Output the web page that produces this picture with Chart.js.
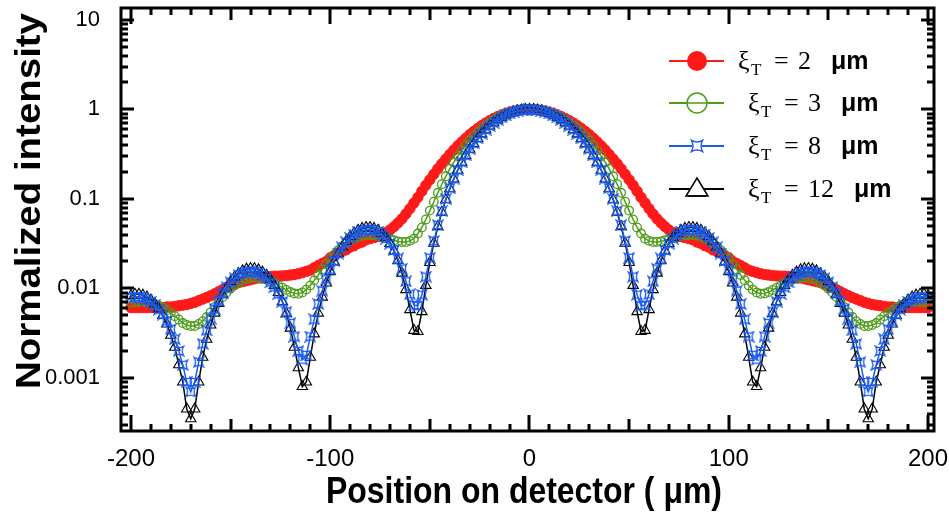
<!DOCTYPE html>
<html>
<head>
<meta charset="utf-8">
<script src="https://cdn.jsdelivr.net/npm/chart.js@4.4.1/dist/chart.umd.min.js"></script>
<style>
  html, body { margin: 0; padding: 0; background: #fff; }
  #wrap { width: 949px; height: 516px; }
</style>
</head>
<body>
<div id="wrap"><canvas id="chart" width="949" height="516"></canvas></div>
<script>
/* ── DATA ── */
const positions = [
  -200, -198, -196, -194, -192, -190, -188, -186, -184, -182,
  -180, -178, -176, -174, -172, -170, -168, -166, -164, -162,
  -160, -158, -156, -154, -152, -150, -148, -146, -144, -142,
  -140, -138, -136, -134, -132, -130, -128, -126, -124, -122,
  -120, -118, -116, -114, -112, -110, -108, -106, -104, -102,
  -100, -98, -96, -94, -92, -90, -88, -86, -84, -82,
  -80, -78, -76, -74, -72, -70, -68, -66, -64, -62,
  -60, -58, -56, -54, -52, -50, -48, -46, -44, -42,
  -40, -38, -36, -34, -32, -30, -28, -26, -24, -22,
  -20, -18, -16, -14, -12, -10, -8, -6, -4, -2,
  0,
  2, 4, 6, 8, 10, 12, 14, 16, 18, 20,
  22, 24, 26, 28, 30, 32, 34, 36, 38, 40,
  42, 44, 46, 48, 50, 52, 54, 56, 58, 60,
  62, 64, 66, 68, 70, 72, 74, 76, 78, 80,
  82, 84, 86, 88, 90, 92, 94, 96, 98, 100,
  102, 104, 106, 108, 110, 112, 114, 116, 118, 120,
  122, 124, 126, 128, 130, 132, 134, 136, 138, 140,
  142, 144, 146, 148, 150, 152, 154, 156, 158, 160,
  162, 164, 166, 168, 170, 172, 174, 176, 178, 180,
  182, 184, 186, 188, 190, 192, 194, 196, 198, 200
];

// xi_T = 2 um
const int2 = [
  0.0061,
  0.0061, 0.0061, 0.0061, 0.0061, 0.0061, 0.0061, 0.0061, 0.0061, 0.0062, 0.0062,
  0.0063, 0.0064, 0.0065, 0.0066, 0.0068, 0.0070, 0.0073, 0.0076, 0.0079, 0.0083,
  0.0087, 0.0092, 0.0097, 0.0102, 0.0107, 0.0112, 0.0116, 0.0119, 0.0122, 0.0125,
  0.0128, 0.0131, 0.0133, 0.0135, 0.0136, 0.0137, 0.0137, 0.0138, 0.0139, 0.0141,
  0.0143, 0.0146, 0.0150, 0.0155, 0.016, 0.017, 0.018, 0.019, 0.020, 0.022,
  0.023, 0.025, 0.026, 0.027, 0.029, 0.030, 0.032, 0.033, 0.035, 0.036,
  0.037, 0.038, 0.040, 0.042, 0.045, 0.049, 0.054, 0.060, 0.068, 0.078,
  0.090, 0.104, 0.122, 0.142, 0.164, 0.189, 0.217, 0.247, 0.279, 0.314,
  0.352, 0.392, 0.433, 0.477, 0.522, 0.567, 0.613, 0.659, 0.705, 0.749,
  0.791, 0.831, 0.868, 0.901, 0.930, 0.955, 0.974, 0.988, 0.997,
  1.000,
  0.997, 0.988, 0.974, 0.955, 0.930, 0.901, 0.868, 0.831, 0.791, 0.749,
  0.705, 0.659, 0.613, 0.567, 0.522, 0.477, 0.433, 0.392, 0.352, 0.314,
  0.279, 0.247, 0.217, 0.189, 0.164, 0.142, 0.122, 0.104, 0.090, 0.078,
  0.068, 0.060, 0.054, 0.049, 0.045, 0.042, 0.040, 0.038, 0.037, 0.036,
  0.035, 0.033, 0.032, 0.030, 0.029, 0.027, 0.026, 0.025, 0.023, 0.022,
  0.020, 0.019, 0.018, 0.017, 0.016, 0.0155, 0.0150, 0.0146, 0.0143, 0.0141,
  0.0139, 0.0138, 0.0137, 0.0137, 0.0136, 0.0135, 0.0133, 0.0131, 0.0128, 0.0125,
  0.0122, 0.0119, 0.0116, 0.0112, 0.0107, 0.0102, 0.0097, 0.0092, 0.0087, 0.0083,
  0.0079, 0.0076, 0.0073, 0.0070, 0.0068, 0.0066, 0.0065, 0.0064, 0.0063, 0.0062,
  0.0062, 0.0061, 0.0061, 0.0061, 0.0061, 0.0061, 0.0061, 0.0061, 0.0061, 0.0061
];

// xi_T = 3 um
const int3 = [
  0.0069,
  0.0070, 0.0071, 0.0071, 0.0070, 0.0069, 0.0067, 0.0064, 0.0061, 0.0057, 0.0053,
  0.0049, 0.0045, 0.0041, 0.0039, 0.0038, 0.0038, 0.0040, 0.0043, 0.0048, 0.0054,
  0.0062, 0.0071, 0.0080, 0.0090, 0.0099, 0.0108, 0.0116, 0.0123, 0.0128, 0.0131,
  0.0132, 0.0131, 0.0129, 0.0125, 0.0120, 0.0114, 0.0108, 0.0102, 0.0096, 0.0091,
  0.0088, 0.0087, 0.0090, 0.0097, 0.0108, 0.0123, 0.0141, 0.0163, 0.0187, 0.0213,
  0.0240, 0.0268, 0.0295, 0.0320, 0.0343, 0.0362, 0.0377, 0.0388, 0.0394, 0.0395,
  0.0392, 0.0386, 0.0378, 0.0367, 0.0355, 0.0345, 0.0335, 0.033, 0.033, 0.034,
  0.036, 0.041, 0.048, 0.059, 0.074, 0.093, 0.117, 0.146, 0.179, 0.216,
  0.257, 0.300, 0.348, 0.398, 0.450, 0.503, 0.556, 0.609, 0.662, 0.713,
  0.762, 0.807, 0.850, 0.887, 0.920, 0.948, 0.971, 0.987, 0.997,
  1.000,
  0.997, 0.987, 0.971, 0.948, 0.920, 0.887, 0.850, 0.807, 0.762, 0.713,
  0.662, 0.609, 0.556, 0.503, 0.450, 0.398, 0.348, 0.300, 0.257, 0.216,
  0.179, 0.146, 0.117, 0.093, 0.074, 0.059, 0.048, 0.041, 0.036, 0.034,
  0.033, 0.033, 0.0335, 0.0345, 0.0355, 0.0367, 0.0378, 0.0386, 0.0392, 0.0395,
  0.0394, 0.0388, 0.0377, 0.0362, 0.0343, 0.0320, 0.0295, 0.0268, 0.0240, 0.0213,
  0.0187, 0.0163, 0.0141, 0.0123, 0.0108, 0.0097, 0.0090, 0.0087, 0.0088, 0.0091,
  0.0096, 0.0102, 0.0108, 0.0114, 0.0120, 0.0125, 0.0129, 0.0131, 0.0132, 0.0131,
  0.0128, 0.0123, 0.0116, 0.0108, 0.0099, 0.0090, 0.0080, 0.0071, 0.0062, 0.0054,
  0.0048, 0.0043, 0.0040, 0.0038, 0.0038, 0.0039, 0.0041, 0.0045, 0.0049, 0.0053,
  0.0057, 0.0061, 0.0064, 0.0067, 0.0069, 0.0070, 0.0071, 0.0071, 0.0070, 0.0069
];

// xi_T = 8 um
const int8 = [
  0.0079,
  0.0080, 0.0080, 0.0078, 0.0075, 0.0071, 0.0065, 0.0058, 0.0051, 0.0043, 0.0035,
  0.0027, 0.0020, 0.0014, 0.0009, 0.0007, 0.0009, 0.0015, 0.0024, 0.0034, 0.0046,
  0.0059, 0.0073, 0.0088, 0.0103, 0.0117, 0.0130, 0.0141, 0.0149, 0.0154, 0.0156,
  0.0154, 0.0149, 0.0141, 0.0130, 0.0117, 0.0103, 0.0087, 0.0071, 0.0055, 0.0041,
  0.0029, 0.0020, 0.0016, 0.0018, 0.0029, 0.0045, 0.0067, 0.0094, 0.0126, 0.0163,
  0.0203, 0.0245, 0.0287, 0.0328, 0.0366, 0.0398, 0.0424, 0.0442, 0.0452, 0.0452,
  0.0444, 0.0426, 0.0398, 0.0361, 0.0317, 0.0268, 0.0216, 0.0166, 0.0120, 0.0086,
  0.0065, 0.0064, 0.0085, 0.0135, 0.022, 0.034, 0.051, 0.073, 0.100, 0.132,
  0.169, 0.211, 0.257, 0.307, 0.361, 0.417, 0.475, 0.534, 0.593, 0.652,
  0.709, 0.764, 0.815, 0.861, 0.902, 0.936, 0.964, 0.984, 0.996,
  1.000,
  0.996, 0.984, 0.964, 0.936, 0.902, 0.861, 0.815, 0.764, 0.709, 0.652,
  0.593, 0.534, 0.475, 0.417, 0.361, 0.307, 0.257, 0.211, 0.169, 0.132,
  0.100, 0.073, 0.051, 0.034, 0.022, 0.0135, 0.0085, 0.0064, 0.0065, 0.0086,
  0.0120, 0.0166, 0.0216, 0.0268, 0.0317, 0.0361, 0.0398, 0.0426, 0.0444, 0.0452,
  0.0452, 0.0442, 0.0424, 0.0398, 0.0366, 0.0328, 0.0287, 0.0245, 0.0203, 0.0163,
  0.0126, 0.0094, 0.0067, 0.0045, 0.0029, 0.0018, 0.0016, 0.0020, 0.0029, 0.0041,
  0.0055, 0.0071, 0.0087, 0.0103, 0.0117, 0.0130, 0.0141, 0.0149, 0.0154, 0.0156,
  0.0154, 0.0149, 0.0141, 0.0130, 0.0117, 0.0103, 0.0088, 0.0073, 0.0059, 0.0046,
  0.0034, 0.0024, 0.0015, 0.0009, 0.0007, 0.0009, 0.0014, 0.0020, 0.0027, 0.0035,
  0.0043, 0.0051, 0.0058, 0.0065, 0.0071, 0.0075, 0.0078, 0.0080, 0.0080, 0.0079
];

// xi_T = 12 um
const int12 = [
  0.0083,
  0.0086, 0.0086, 0.0084, 0.0080, 0.0074, 0.0067, 0.0059, 0.0050, 0.0040, 0.0030,
  0.0022, 0.0014, 0.0009, 0.00045, 0.00035, 0.00045, 0.0009, 0.0017, 0.0027, 0.0039,
  0.0053, 0.0068, 0.0085, 0.0102, 0.0119, 0.0134, 0.0146, 0.0157, 0.0164, 0.0167,
  0.0166, 0.0161, 0.0152, 0.0140, 0.0125, 0.0108, 0.0090, 0.0071, 0.0052, 0.0036,
  0.0022, 0.0013, 0.0008, 0.0009, 0.0017, 0.0031, 0.0053, 0.0080, 0.0115, 0.0154,
  0.0198, 0.0244, 0.0290, 0.0336, 0.0379, 0.0416, 0.0446, 0.0468, 0.0479, 0.0479,
  0.0468, 0.0445, 0.0412, 0.0368, 0.0318, 0.0262, 0.0204, 0.0148, 0.0097, 0.0058,
  0.0034, 0.0033, 0.0055, 0.0108, 0.0195, 0.032, 0.049, 0.071, 0.098, 0.130,
  0.167, 0.209, 0.255, 0.305, 0.359, 0.415, 0.474, 0.533, 0.593, 0.652,
  0.709, 0.764, 0.815, 0.861, 0.902, 0.936, 0.964, 0.984, 0.996,
  1.000,
  0.996, 0.984, 0.964, 0.936, 0.902, 0.861, 0.815, 0.764, 0.709, 0.652,
  0.593, 0.533, 0.474, 0.415, 0.359, 0.305, 0.255, 0.209, 0.167, 0.130,
  0.098, 0.071, 0.049, 0.032, 0.0195, 0.0108, 0.0055, 0.0033, 0.0034, 0.0058,
  0.0097, 0.0148, 0.0204, 0.0262, 0.0318, 0.0368, 0.0412, 0.0445, 0.0468, 0.0479,
  0.0479, 0.0468, 0.0446, 0.0416, 0.0379, 0.0336, 0.0290, 0.0244, 0.0198, 0.0154,
  0.0115, 0.0080, 0.0053, 0.0031, 0.0017, 0.0009, 0.0008, 0.0013, 0.0022, 0.0036,
  0.0052, 0.0071, 0.0090, 0.0108, 0.0125, 0.0140, 0.0152, 0.0161, 0.0166, 0.0167,
  0.0164, 0.0157, 0.0146, 0.0134, 0.0119, 0.0102, 0.0085, 0.0068, 0.0053, 0.0039,
  0.0027, 0.0017, 0.0009, 0.00045, 0.00035, 0.00045, 0.0009, 0.0014, 0.0022, 0.0030,
  0.0040, 0.0050, 0.0059, 0.0067, 0.0074, 0.0080, 0.0084, 0.0086, 0.0086, 0.0083
];

const seriesNames = ["2", "3", "8", "12"];
const xTickValues = [-200, -100, 0, 100, 200];
const xTickLabels = ["-200", "-100", "0", "100", "200"];
const yTickValues = [0.001, 0.01, 0.1, 1, 10];
const yTickLabels = ["0.001", "0.01", "0.1", "1", "10"];
const xTitle = "Position on detector ( μm)";
const yTitle = "Normalized intensity";

/* ── STYLE ── */
const FONT = "'Liberation Sans', Arial, sans-serif";
const SERIF = "'Liberation Serif', 'Times New Roman', serif";
const RED = "#ff1a1a";
const GREEN = "#4f9c1a";
const BLUE = "#1a5cf2";
const BLACK = "#000000";

function starMarker(size, color, lw) {
  const c = document.createElement("canvas");
  c.width = c.height = size;
  const g = c.getContext("2d");
  const m = size / 2, r = size / 2 - lw;
  const k = 0.45;
  g.strokeStyle = color;
  g.lineWidth = lw;
  g.beginPath();
  g.moveTo(m - r, m - r);
  g.quadraticCurveTo(m, m - r * k, m + r, m - r);
  g.quadraticCurveTo(m + r * k, m, m + r, m + r);
  g.quadraticCurveTo(m, m + r * k, m - r, m + r);
  g.quadraticCurveTo(m - r * k, m, m - r, m - r);
  g.closePath();
  g.stroke();
  return c;
}

const pts = (vals) => positions.map((x, i) => ({ x: x, y: vals[i] }));

const datasets = [
  {
    label: "xi2", data: pts(int2), order: 4,
    borderColor: RED, borderWidth: 2, backgroundColor: RED,
    pointStyle: "circle", pointRadius: 5.2, pointBorderWidth: 1,
    pointBackgroundColor: RED, pointBorderColor: RED
  },
  {
    label: "xi3", data: pts(int3), order: 3,
    borderColor: GREEN, borderWidth: 1.5,
    pointStyle: "circle", pointRadius: 4.3, pointBorderWidth: 1.3,
    pointBackgroundColor: "rgba(0,0,0,0)", pointBorderColor: GREEN
  },
  {
    label: "xi8", data: pts(int8), order: 1,
    borderColor: BLUE, borderWidth: 1.5,
    pointStyle: starMarker(12, BLUE, 1.4), pointRadius: 5
  },
  {
    label: "xi12", data: pts(int12), order: 2,
    borderColor: BLACK, borderWidth: 1.5,
    pointStyle: "triangle", pointRadius: 6, pointBorderWidth: 1.1,
    pointBackgroundColor: "rgba(0,0,0,0)", pointBorderColor: BLACK
  }
];

function noPad(s) {
  s.paddingLeft = s.paddingRight = s.paddingTop = s.paddingBottom = 0;
}

/* ── FRAME, INWARD TICKS, TITLES, LEGEND ── */
const framePlugin = {
  id: "frame",
  afterDatasetsDraw(chart) {
    const { ctx, chartArea: a, scales } = chart;
    const sx = scales.x, sy = scales.y;
    ctx.save();
    ctx.strokeStyle = "#000";
    ctx.lineWidth = 3;
    ctx.beginPath();
    for (let v = Math.ceil(sx.min / 10) * 10; v <= sx.max; v += 10) {
      const len = v % 100 === 0 ? 16 : (v % 50 === 0 ? 12 : 7);
      const p = Math.round(sx.getPixelForValue(v));
      ctx.moveTo(p, a.bottom); ctx.lineTo(p, a.bottom - len);
      ctx.moveTo(p, a.top); ctx.lineTo(p, a.top + len);
    }
    for (let e = -4; e <= 1; e++) {
      for (let m = 1; m <= 9; m++) {
        const v = m * Math.pow(10, e);
        if (v < sy.min || v > sy.max) continue;
        const len = m === 1 ? 13 : 7;
        const p = Math.round(sy.getPixelForValue(v));
        ctx.moveTo(a.left, p); ctx.lineTo(a.left + len, p);
        ctx.moveTo(a.right, p); ctx.lineTo(a.right - len, p);
      }
    }
    ctx.stroke();
    ctx.lineWidth = 3;
    ctx.strokeRect(a.left, a.top, a.right - a.left, a.bottom - a.top);
    ctx.restore();
  },
  afterDraw(chart) {
    const ctx = chart.ctx;
    ctx.save();
    ctx.fillStyle = "#000";

    // axis titles, stretched to the reference extent
    ctx.font = "bold 37px " + FONT;
    ctx.textAlign = "center";
    ctx.textBaseline = "alphabetic";
    let w = ctx.measureText(xTitle).width;
    ctx.save();
    ctx.translate(524, 503);
    ctx.scale(396 / w, 1);
    ctx.fillText(xTitle, 0, 0);
    ctx.restore();

    ctx.font = "bold 35px " + FONT;
    w = ctx.measureText(yTitle).width;
    ctx.save();
    ctx.translate(40, 201);
    ctx.rotate(-Math.PI / 2);
    ctx.scale(376 / w, 1);
    ctx.fillText(yTitle, 0, 0);
    ctx.restore();

    // legend
    const rows = [
      { y: 61, x0: 738, color: RED, kind: "dot" },
      { y: 103, x0: 748, color: GREEN, kind: "ring" },
      { y: 146, x0: 748, color: BLUE, kind: "star" },
      { y: 189, x0: 748, color: BLACK, kind: "tri" }
    ];
    const star = starMarker(14, BLUE, 1.4);
    rows.forEach((r, i) => {
      ctx.strokeStyle = r.color;
      ctx.lineWidth = 2;
      ctx.beginPath();
      ctx.moveTo(669, r.y); ctx.lineTo(724, r.y);
      ctx.stroke();
      const cx = 697;
      ctx.beginPath();
      if (r.kind === "dot") {
        ctx.fillStyle = r.color;
        ctx.arc(cx, r.y, 10, 0, Math.PI * 2);
        ctx.fill();
      } else if (r.kind === "ring") {
        ctx.fillStyle = "#fff";
        ctx.lineWidth = 1.5;
        ctx.arc(cx, r.y, 10, 0, Math.PI * 2);
        ctx.fill(); ctx.stroke();
        ctx.beginPath(); ctx.moveTo(cx - 10, r.y); ctx.lineTo(cx + 10, r.y); ctx.stroke();
      } else if (r.kind === "star") {
        ctx.fillStyle = "#fff";
        ctx.fillRect(cx - 5, r.y - 5, 10, 10);
        ctx.drawImage(star, cx - 7, r.y - 7);
      } else {
        ctx.fillStyle = "#fff";
        ctx.lineWidth = 1.5;
        ctx.moveTo(cx, r.y - 11); ctx.lineTo(cx + 11, r.y + 7); ctx.lineTo(cx - 11, r.y + 7);
        ctx.closePath();
        ctx.fill(); ctx.stroke();
        ctx.beginPath(); ctx.moveTo(cx - 9, r.y + 7); ctx.lineTo(cx + 9, r.y + 7); ctx.stroke();
      }
      const base = r.y + 8;
      ctx.fillStyle = "#000";
      ctx.textAlign = "left";
      ctx.textBaseline = "alphabetic";
      ctx.font = "26px " + SERIF;
      ctx.fillText("ξ", r.x0, base);
      ctx.font = "17px " + SERIF;
      ctx.fillText("T", r.x0 + 13, base + 6);
      ctx.font = "26px " + SERIF;
      ctx.fillText("=", r.x0 + 36, base);
      ctx.fillText(seriesNames[i], r.x0 + 60, base);
      const nw = ctx.measureText(seriesNames[i]).width;
      ctx.font = "bold 25px " + FONT;
      ctx.fillText("μm", r.x0 + 60 + nw + 20, base);
    });
    ctx.restore();
  }
};

new Chart(document.getElementById("chart").getContext("2d"), {
  type: "line",
  data: { datasets: datasets },
  options: {
    responsive: false,
    animation: false,
    layout: { padding: { top: 8, right: 15, left: 0, bottom: 0 } },
    elements: { line: { tension: 0 } },
    plugins: { legend: { display: false }, tooltip: { enabled: false } },
    scales: {
      x: {
        type: "linear", min: -205, max: 203,
        grid: { display: false, drawTicks: false },
        border: { display: false },
        afterBuildTicks: (s) => { s.ticks = xTickValues.map((v) => ({ value: v })); },
        afterFit: (s) => { s.height = 85; noPad(s); },
        ticks: {
          color: "#000", padding: 14, maxRotation: 0, autoSkip: false,
          font: { family: FONT, size: 24 },
          callback: (v, i) => xTickLabels[i]
        }
      },
      y: {
        type: "logarithmic", min: 0.000255, max: 13.6,
        grid: { display: false, drawTicks: false },
        border: { display: false },
        afterBuildTicks: (s) => { s.ticks = yTickValues.map((v) => ({ value: v })); },
        afterFit: (s) => { s.width = 121; noPad(s); },
        ticks: {
          color: "#000", padding: 21, autoSkip: false,
          font: { family: FONT, size: 22 },
          callback: (v, i) => yTickLabels[i]
        }
      }
    }
  },
  plugins: [framePlugin]
});
</script>
</body>
</html>
